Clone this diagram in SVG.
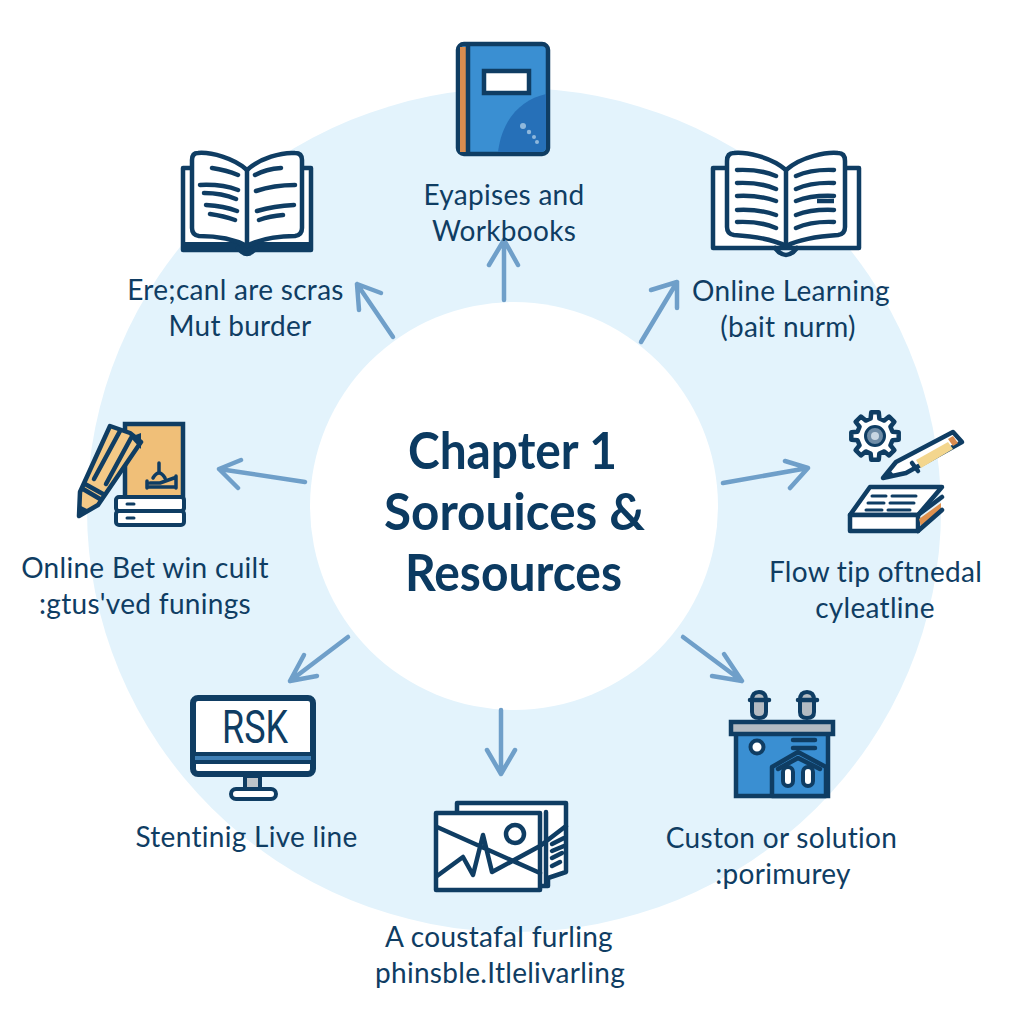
<svg xmlns="http://www.w3.org/2000/svg" width="1024" height="1024" viewBox="0 0 1024 1024">
<style>
.l{font-family:"Lato","Noto Sans",sans-serif;font-size:28px;letter-spacing:.3px;fill:#0f3d63;text-anchor:middle}
.t{font-family:"Lato","Noto Sans",sans-serif;font-size:52px;font-weight:700;fill:#0b3a61;text-anchor:middle}
.s{fill:none;stroke:#0f3d63;stroke-width:4.5;stroke-linecap:round;stroke-linejoin:round}
.w{fill:#fff;stroke:#0f3d63;stroke-width:4.5;stroke-linejoin:round;stroke-linecap:round}
.c{fill:none;stroke:#6f9fc9;stroke-width:4.5;stroke-linecap:round;stroke-linejoin:round}
</style>
<rect width="1024" height="1024" fill="#fff"/>
<ellipse cx="514" cy="510" rx="427" ry="422" fill="#e3f3fc"/>
<circle cx="514" cy="506" r="204" fill="#fff"/>
<g id="connectors">
<path class="c" d="M504 300V240M489 265L504 240L518 265"/>
<path class="c" d="M641 342L677 282M651 290L677 282L677 308"/>
<path class="c" d="M723 483L808 468M785 461L808 468L790 488"/>
<path class="c" d="M683 637L742 681M724 654L742 681L712 676"/>
<path class="c" d="M501 710V774M487 750L501 774L515 750"/>
<path class="c" d="M348 637L290 681M317 676L290 681L304 655"/>
<path class="c" d="M305 482L219 469M241 460L219 469L238 488"/>
<path class="c" d="M393 337L357 284M381 293L357 284L359 310"/>
</g>
<g id="center"><text class="t" x="512.500" y="469" textLength="209" lengthAdjust="spacingAndGlyphs">Chapter 1</text><text class="t" x="514.500" y="530" textLength="261" lengthAdjust="spacingAndGlyphs">Sorouices &amp;</text><text class="t" x="513.500" y="591" textLength="217" lengthAdjust="spacingAndGlyphs">Resources</text></g>
<g id="node-top">
<rect x="458" y="44" width="90" height="110" rx="6" fill="#3a8fd2" stroke="#0f3d63" stroke-width="4.500"/>
<path d="M498 152C502 120 520 100 546 94V146Q546 152 540 152Z" fill="#2670b8"/>
<rect x="460" y="47" width="7" height="105" fill="#d98c4f"/>
<path class="s" d="M468 46V152"/>
<rect x="484" y="71" width="45" height="22" fill="#fff" stroke="#0f3d63" stroke-width="4.500"/>
<g fill="#8fb8dc"><circle cx="523" cy="126" r="3"/><circle cx="529" cy="132" r="2.200"/><circle cx="534" cy="137" r="2"/><circle cx="537" cy="142" r="2"/></g>
<text class="l" x="504" y="205">Eyapises and</text><text class="l" x="504" y="241">Workbooks</text>
</g>
<g id="node-upper-right">
<path class="w" d="M726 168H713V248H859V168H845"/>
<path class="w" d="M786 170C770 156 745 152 734 153Q727 153 727 161V227Q727 234 734 235C750 236 770 238 786 246C802 238 822 236 838 235Q845 234 845 227V161Q845 153 838 153C827 152 802 156 786 170Z"/>
<path class="s" d="M786 170V246M775 248Q786 262 797 248"/>
<path class="s" d="M737 170Q760 169 776 176M737 183Q760 182 776 189M737 196Q760 195 776 201M737 210Q760 209 776 215M737 222Q760 221 776 228M796 176Q812 169 834 170M796 189Q812 182 834 183M796 201Q812 195 834 196M796 215Q812 209 834 210M796 228Q812 221 834 222"/>
<path d="M817 201H834" stroke="#0f3d63" stroke-width="4.500"/>
<text class="l" x="791" y="301">Online Learning</text><text class="l" x="788" y="337">(bait nurm)</text>
</g>
<g id="node-right">
<polygon transform="translate(875,436)" class="w" points="-4.360,-17.460 -3.750,-23.700 3.750,-23.700 4.360,-17.460 9.260,-15.430 14.100,-19.400 19.400,-14.100 15.430,-9.260 17.460,-4.360 23.700,-3.750 23.700,3.750 17.460,4.360 15.430,9.260 19.400,14.100 14.100,19.400 9.260,15.430 4.360,17.460 3.750,23.700 -3.750,23.700 -4.360,17.460 -9.260,15.430 -14.100,19.400 -19.400,14.100 -15.430,9.260 -17.460,4.360 -23.700,3.750 -23.700,-3.750 -17.460,-4.360 -15.430,-9.260 -19.400,-14.100 -14.100,-19.400 -9.260,-15.430"/>
<circle cx="875" cy="436" r="9.500" fill="#6f8ca6" stroke="#0f3d63" stroke-width="3"/><circle cx="875" cy="436" r="4" fill="#c8d6e2"/>
<path class="w" d="M883 478L896 462L953 432L962 442L906 473Z"/>
<path d="M916 460L948 442L953 449L921 468Z" fill="#f3d68e"/>
<path d="M948 439L953 436L958 443L953 446Z" fill="#d98c4f"/>
<path class="s" d="M912 463L918 471"/>
<path d="M883 478L890 470L895 476Z" fill="#0f3d63"/>
<path class="w" d="M850 515L870 487H942L918 515Z"/>
<path class="w" d="M850 515H918V531H850Z"/>
<path d="M919 519L941 503V510L922 530Z" fill="#e0914e"/>
<path class="s" d="M918 531L942 510M918 515L942 497"/>
<path class="s" style="stroke-width:3" d="M872 496H886M892 496H916M868 503H884M890 503H914M866 510H882M888 510H910"/>
<text class="l" x="875.500" y="582">Flow tip oftnedal</text><text class="l" x="875" y="618">cyleatline</text>
</g>
<g id="node-lower-right">
<path d="M736 733H828V796H736Z" fill="#3a8fd2" stroke="#0f3d63" stroke-width="4.500"/>
<rect x="731" y="722" width="102" height="12" fill="#b4bbc2" stroke="#0f3d63" stroke-width="4.500"/>
<circle cx="757" cy="747" r="6.500" fill="#fff" stroke="#0f3d63" stroke-width="4"/>
<path class="s" d="M793 740H815M793 748H815"/>
<path d="M772 767L798 752L826 767V796H772Z" fill="#3a8fd2" stroke="#0f3d63" stroke-width="4.500" stroke-linejoin="round"/>
<path class="s" d="M778 769L798 758L820 769"/>
<rect x="783" y="767" width="10" height="19" rx="5" fill="#fff" stroke="#0f3d63" stroke-width="4"/>
<rect x="803" y="767" width="10" height="19" rx="5" fill="#fff" stroke="#0f3d63" stroke-width="4"/>
<path d="M752 700Q752 692 759 692Q766 692 766 700V712Q766 718 759 718Q752 718 752 712Z" fill="#b4bbc2" stroke="#0f3d63" stroke-width="4"/><path class="s" d="M750 700H769"/>
<path d="M800 700Q800 692 807 692Q814 692 814 700V712Q814 718 807 718Q800 718 800 712Z" fill="#b4bbc2" stroke="#0f3d63" stroke-width="4"/><path class="s" d="M798 700H817"/>
<text class="l" x="781.500" y="848">Custon or solution</text><text class="l" x="783" y="884">:porimurey</text>
</g>
<g id="node-bottom">
<path class="w" d="M457 811V803H566V872L548 878V886H460Z"/>
<path class="w" d="M436 813H540V890H436Z"/>
<path class="s" d="M546 812V884M540 846L566 826M552 844L564 838M552 851L564 846M552 858L562 853M552 866L560 862"/>
<path class="s" d="M437 827L540 873M437 876L463 857L473 875L483 835L492 872L540 846"/>
<circle cx="515" cy="834" r="9" class="s"/>
<text class="l" x="499" y="947">A coustafal furling</text><text class="l" x="500" y="983">phinsble.Itlelivarling</text>
</g>
<g id="node-lower-left">
<rect x="193" y="698" width="120" height="76" rx="5" fill="#fff" stroke="#0f3d63" stroke-width="6"/>
<rect x="198" y="703" width="109" height="49" fill="#fff"/>
<path d="M193 754H313M193 762H313" stroke="#0f3d63" stroke-width="4"/>
<path d="M195 758H311" stroke="#3f7fb5" stroke-width="4"/>
<rect x="245" y="776" width="15" height="13" fill="#bfc5ca" stroke="#0f3d63" stroke-width="4"/>
<rect x="231" y="789" width="45" height="10" rx="5" fill="#fff" stroke="#0f3d63" stroke-width="4"/>
<text x="255" y="743" font-family="Roboto,sans-serif" font-size="46" fill="#0f3d63" text-anchor="middle" textLength="66" lengthAdjust="spacingAndGlyphs">RSK</text>
<text class="l" x="246.500" y="847">Stentinig Live line</text>
</g>
<g id="node-left">
<rect x="125" y="424" width="58" height="74" fill="#f0bf78" stroke="#0f3d63" stroke-width="4.500"/>
<path class="s" style="stroke-width:3.500" d="M159 463V472M153 478Q159 468 165 478M147 488V481M147 487H176M150 483H160L174 478M176 476V488"/>
<rect x="116" y="497" width="68" height="14" rx="3" fill="#fff" stroke="#0f3d63" stroke-width="4"/>
<rect x="116" y="511" width="68" height="14" rx="3" fill="#fff" stroke="#0f3d63" stroke-width="4"/>
<path class="s" style="stroke-width:3" d="M127 504H134M127 518H134"/>
<path d="M79 516L80 492L110 426L130 433L141 442L98 505Z" fill="#f3c987" stroke="#0f3d63" stroke-width="4.500" stroke-linejoin="round"/>
<path class="s" d="M106 484L131 438M94 479L120 431M83 489L100 499M85 484L103 494"/>
<path d="M130 437L141 433L141 449Z" fill="#0f3d63"/>
<path d="M79 516L81 506L89 510Z" fill="#0f3d63"/>
<text class="l" x="145" y="578">Online Bet win cuilt</text><text class="l" x="145" y="614">:gtus'ved funings</text>
</g>
<g id="node-upper-left">
<path class="w" d="M194 168H183V250H311V168H300"/>
<path d="M184 245H310" stroke="#0f3d63" stroke-width="6"/>
<path class="w" d="M247 170C234 158 211 152 198 153Q192 153 192 160V228Q192 235 199 236C215 236 232 238 247 246C262 238 279 236 295 236Q302 235 302 228V160Q302 153 295 153C282 152 260 158 247 170Z"/>
<path class="s" d="M247 170V246M238 248Q247 260 256 248"/>
<path class="s" d="M212 168Q226 170 238 175M200 185Q222 184 238 190M204 193Q222 193 236 199M206 205Q224 206 237 211M210 214Q224 216 235 220M255 175Q266 169 281 168M256 191Q274 185 295 185M257 211Q274 206 294 205M259 220Q270 216 283 215"/>
<text class="l" x="235.500" y="300">Ere;canl are scras</text><text class="l" x="240" y="336">Mut burder</text>
</g>
</svg>
